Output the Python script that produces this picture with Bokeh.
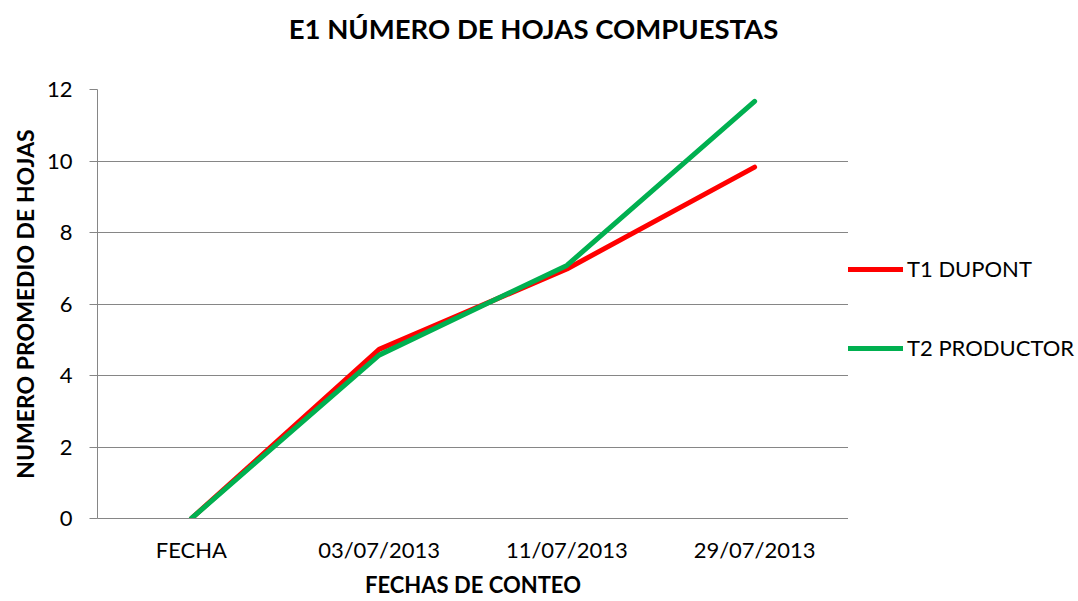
from bokeh.plotting import figure
from bokeh.layouts import row, column
from bokeh.models import FactorRange, Range1d, Legend, LegendItem, FixedTicker, Label
from bokeh.embed import file_html
from bokeh.resources import INLINE

categories = ["FECHA", "03/07/2013", "11/07/2013", "29/07/2013"]
t1_dupont = [0, 4.73, 6.98, 9.83]
t2_productor = [0, 4.57, 7.08, 11.67]
y_ticks = [0, 2, 4, 6, 8, 10, 12]
series_names = ["T1 DUPONT", "T2 PRODUCTOR"]
series_colors = ["#FF0000", "#00B050"]
series_values = [t1_dupont, t2_productor]
title_text = "E1 NÚMERO DE HOJAS COMPUESTAS"

FONT = "Lato"
H_TITLE = 56
H = 600 - H_TITLE
W_CHART, W_LEG = 848, 228


def bare(fig):
    fig.outline_line_color = None
    fig.xgrid.grid_line_color = None
    fig.ygrid.grid_line_color = None
    fig.background_fill_color = "white"
    fig.border_fill_color = "white"


# title strip
t = figure(width=W_CHART + W_LEG, height=H_TITLE, x_axis_type=None,
           y_axis_type=None, output_backend="svg", toolbar_location=None,
           min_border_left=0, min_border_right=0, min_border_top=0,
           min_border_bottom=0)
bare(t)
t.add_layout(Label(x=533, y=H_TITLE / 2, x_units="screen", y_units="screen",
                   text=title_text, text_font=FONT, text_font_style="bold",
                   text_font_size="27.5px", text_align="center",
                   text_baseline="middle", text_color="black"))

# chart
p = figure(width=W_CHART, height=H, x_range=FactorRange(factors=categories),
           y_range=Range1d(0, 12), output_backend="svg", toolbar_location=None,
           min_border_left=97, min_border_right=0,
           min_border_top=89 - H_TITLE, min_border_bottom=82)
p.outline_line_color = None
p.background_fill_color = "white"
p.border_fill_color = "white"

for vals, col in zip(series_values, series_colors):
    p.line(categories, vals, line_color=col, line_width=5,
           line_cap="round", line_join="round")

grid_col = "#868686"
p.xgrid.grid_line_color = None
p.ygrid.grid_line_color = grid_col
p.ygrid.grid_line_width = 1

p.yaxis.ticker = FixedTicker(ticks=y_ticks)
p.yaxis.axis_line_color = grid_col
p.yaxis.major_tick_line_color = grid_col
p.yaxis.major_tick_out = 8
p.yaxis.major_tick_in = 0
p.yaxis.minor_tick_line_color = None
p.yaxis.major_label_standoff = 17
p.yaxis.major_label_text_font = FONT
p.yaxis.major_label_text_font_size = "22px"
p.yaxis.major_label_text_color = "black"
p.yaxis.axis_label = "NUMERO PROMEDIO DE HOJAS"
p.yaxis.axis_label_text_font = FONT
p.yaxis.axis_label_text_font_style = "bold"
p.yaxis.axis_label_text_font_size = "23px"
p.yaxis.axis_label_text_color = "black"
p.yaxis.axis_label_standoff = 5

p.xaxis.axis_line_color = grid_col
p.xaxis.major_tick_line_color = None
p.xaxis.major_tick_out = 0
p.xaxis.major_tick_in = 0
p.xaxis.major_label_standoff = 17
p.xaxis.major_label_text_font = FONT
p.xaxis.major_label_text_font_size = "22px"
p.xaxis.major_label_text_color = "black"
p.xaxis.axis_label = "FECHAS DE CONTEO"
p.xaxis.axis_label_text_font = FONT
p.xaxis.axis_label_text_font_style = "bold"
p.xaxis.axis_label_text_font_size = "22px"
p.xaxis.axis_label_text_color = "black"
p.xaxis.axis_label_standoff = 5

# legend panel: same series drawn on a range where they are out of view,
# so that only their legend glyphs show
q = figure(width=W_LEG, height=H, x_range=FactorRange(factors=categories),
           y_range=Range1d(-20, -10), x_axis_type=None, y_axis_type=None,
           output_backend="svg", toolbar_location=None,
           min_border_left=0, min_border_right=0, min_border_top=0,
           min_border_bottom=0)
bare(q)
items = []
for name, vals, col in zip(series_names, series_values, series_colors):
    rr = q.line(categories, vals, line_color=col, line_width=5,
                line_cap="round")
    items.append(LegendItem(label=name, renderers=[rr]))

legend = Legend(items=items, location=(0, 157), orientation="vertical",
                glyph_width=55, glyph_height=26, label_standoff=4,
                spacing=52, padding=0, margin=0,
                border_line_color=None, background_fill_alpha=0,
                label_text_font=FONT, label_text_font_size="22px",
                label_text_color="black")
q.add_layout(legend)

layout = column(t, row(p, q, spacing=0), spacing=0)
open("out.html", "w").write(file_html(layout, INLINE))
